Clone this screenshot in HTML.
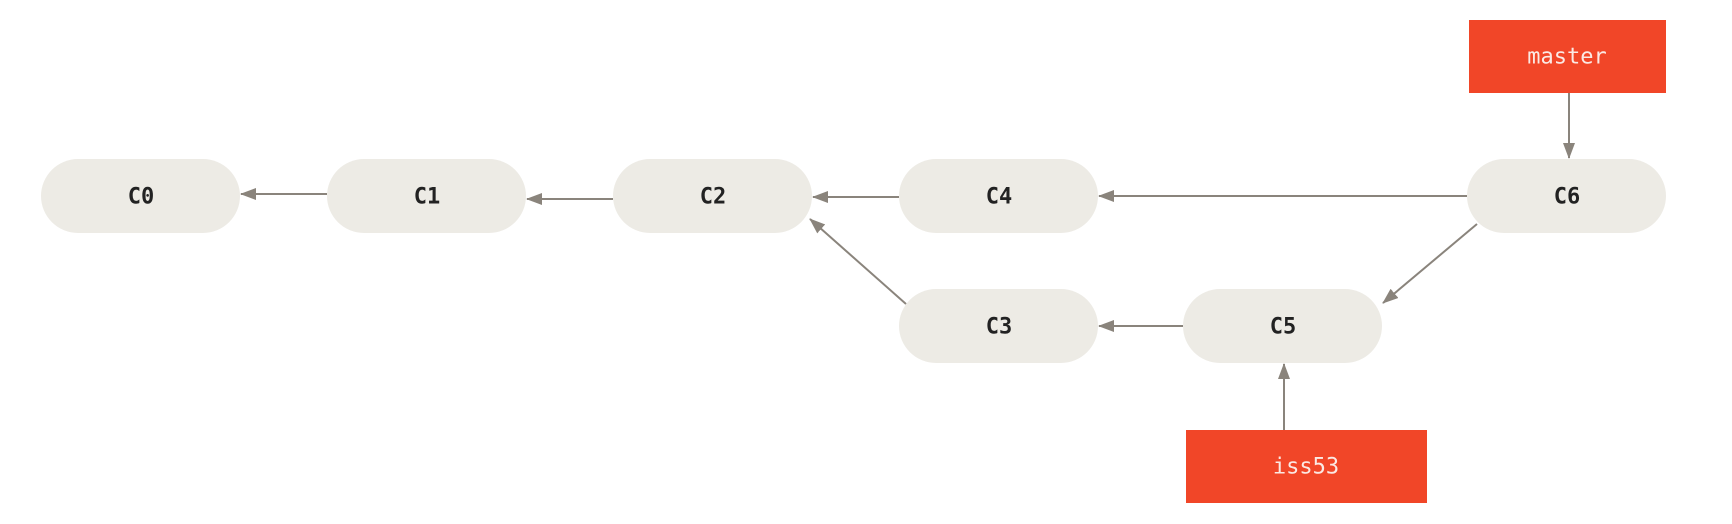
<!DOCTYPE html>
<html><head><style>
body{margin:0;background:#fff;}
svg{display:block}
text{font-family:"DejaVu Sans Mono","Liberation Mono",monospace;font-size:22px;text-anchor:middle;dominant-baseline:central}
</style></head><body>
<svg width="1732" height="524" viewBox="0 0 1732 524">
<defs><marker id="a" markerWidth="16" markerHeight="12" refX="15" refY="6" orient="auto" markerUnits="userSpaceOnUse"><path d="M0,0 L16,6 L0,12 z" fill="#8a847c"/></marker></defs>
<g fill="#edebe5">
<rect x="41" y="159" width="199" height="74" rx="37"/>
<rect x="327" y="159" width="199" height="74" rx="37"/>
<rect x="613" y="159" width="199" height="74" rx="37"/>
<rect x="899" y="159" width="199" height="74" rx="37"/>
<rect x="1467" y="159" width="199" height="74" rx="37"/>
<rect x="899" y="289" width="199" height="74" rx="37"/>
<rect x="1183" y="289" width="199" height="74" rx="37"/>
</g>
<g fill="#f14628">
<rect x="1469" y="20" width="197" height="73"/>
<rect x="1186" y="430" width="241" height="73"/>
</g>
<g stroke="#8a847c" stroke-width="2" marker-end="url(#a)">
<line x1="327" y1="194" x2="241" y2="194"/>
<line x1="613" y1="199" x2="527" y2="199"/>
<line x1="899" y1="197" x2="813" y2="197"/>
<line x1="1467" y1="196" x2="1099" y2="196"/>
<line x1="1569" y1="93" x2="1569" y2="158"/>
<line x1="1477" y1="224" x2="1383" y2="303"/>
<line x1="906" y1="304" x2="810" y2="219"/>
<line x1="1183" y1="326" x2="1099" y2="326"/>
<line x1="1284" y1="430" x2="1284" y2="364"/>
</g>
<g fill="#222" font-weight="bold">
<text x="141" y="197">C0</text>
<text x="427" y="197">C1</text>
<text x="713" y="197">C2</text>
<text x="999" y="197">C4</text>
<text x="1567" y="197">C6</text>
<text x="999" y="327">C3</text>
<text x="1283" y="327">C5</text>
</g>
<g fill="#fbe9e4">
<text x="1567" y="57">master</text>
<text x="1306" y="467">iss53</text>
</g>
</svg>
</body></html>
